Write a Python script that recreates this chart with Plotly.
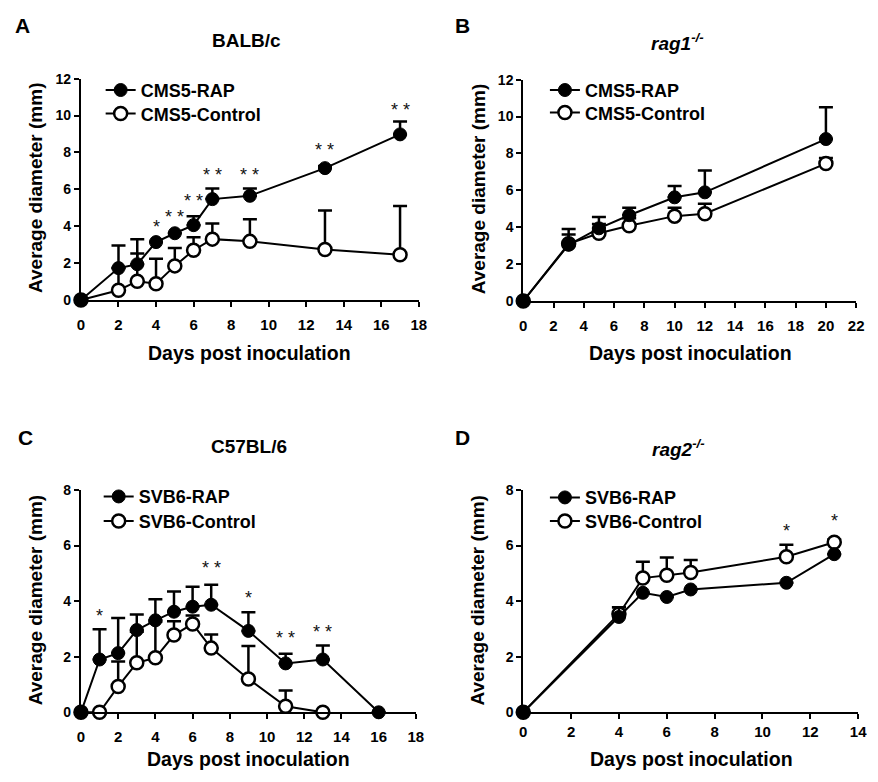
import plotly.graph_objects as go

# ---------------- data ----------------
# Panel A: BALB/c, CMS5
a_days = [0, 2, 3, 4, 5, 6, 7, 9, 13, 17]
a_rap = [0, 1.73, 1.94, 3.14, 3.62, 4.06, 5.47, 5.65, 7.15, 8.98]
a_rap_err = [0, 1.22, 1.36, 0, 0, 0.48, 0.58, 0.40, 0.12, 0.70]
a_ctl = [0, 0.53, 1.02, 0.88, 1.85, 2.70, 3.30, 3.18, 2.74, 2.45]
a_ctl_err = [0, 1.2, 1.50, 1.36, 0.97, 0.70, 0.85, 1.20, 2.11, 2.65]
a_star_x = [4, 5, 6, 7, 9, 13, 17]
a_star_y = [3.97, 4.50, 5.38, 6.79, 6.79, 8.12, 10.3]
a_star_t = ["*", "* *", "* *", "* *", "* *", "* *", "* *"]

# Panel B: rag1-/-, CMS5
b_days = [0, 3, 5, 7, 10, 12, 20]
b_rap = [0, 3.05, 3.94, 4.65, 5.62, 5.89, 8.78]
b_rap_err = [0, 0.85, 0.62, 0.40, 0.62, 1.18, 1.72]
b_ctl = [0, 3.10, 3.67, 4.08, 4.60, 4.73, 7.45]
b_ctl_err = [0, 0.50, 0.50, 0.40, 0.45, 0.54, 0.30]

# Panel C: C57BL/6, SVB6
c_days_rap = [0, 1, 2, 3, 4, 5, 6, 7, 9, 11, 13, 16]
c_rap = [0, 1.90, 2.13, 2.96, 3.31, 3.62, 3.80, 3.87, 2.93, 1.76, 1.90, 0]
c_rap_err = [0, 1.09, 1.26, 0.56, 0.76, 0.73, 0.72, 0.72, 0.67, 0.35, 0.50, 0]
c_days_ctl = [0, 1, 2, 3, 4, 5, 6, 7, 9, 11, 13]
c_ctl = [0, 0, 0.93, 1.78, 1.96, 2.78, 3.18, 2.31, 1.20, 0.22, 0]
c_ctl_err = [0, 0, 0.90, 1.12, 1.30, 0.50, 0.30, 0.49, 1.19, 0.56, 0]
c_star_x = [1, 7, 9, 11, 13]
c_star_y = [3.48, 5.18, 4.13, 2.66, 2.90]
c_star_t = ["*", "* *", "*", "* *", "* *"]

# Panel D: rag2-/-, SVB6
d_days = [0, 4, 5, 6, 7, 11, 13]
d_rap = [0, 3.43, 4.30, 4.15, 4.42, 4.66, 5.69]
d_rap_err = [0, 0.35, 0, 0, 0, 0, 0]
d_ctl = [0, 3.54, 4.83, 4.93, 5.03, 5.60, 6.12]
d_ctl_err = [0, 0.24, 0.59, 0.64, 0.45, 0.43, 0.10]
d_star_x = [11, 13]
d_star_y = [6.53, 6.89]
d_star_t = ["*", "*"]

# page body has an 8px margin: size the figure so the page coordinates line up
OFF = 8
W, H = 878 - OFF, 782 - OFF
def px(x):
    return (x - OFF) / W
def py(y):
    return 1 - (y - OFF) / H

FONT = "Liberation Sans, Arial, sans-serif"

fig = go.Figure()

def add_pair(xs_r, ys_r, er_r, xs_c, ys_c, er_c, name_r, name_c, xa, ya, leg_r, leg_c):
    fig.add_trace(go.Scatter(
        x=xs_c, y=ys_c, name=name_c, mode="lines+markers", xaxis=xa, yaxis=ya,
        legend=leg_c, showlegend=True, cliponaxis=False,
        line=dict(color="black", width=2),
        marker=dict(symbol="circle", size=13, color="white", line=dict(color="black", width=2.5)),
        error_y=dict(type="data", array=er_c, arrayminus=[0] * len(er_c), symmetric=False,
                     color="black", thickness=2.5, width=7),
    ))
    fig.add_trace(go.Scatter(
        x=xs_r, y=ys_r, name=name_r, mode="lines+markers", xaxis=xa, yaxis=ya,
        legend=leg_r, showlegend=True, cliponaxis=False,
        line=dict(color="black", width=2),
        marker=dict(symbol="circle", size=13, color="black", line=dict(color="black", width=1)),
        error_y=dict(type="data", array=er_r, arrayminus=[0] * len(er_r), symmetric=False,
                     color="black", thickness=2.5, width=7),
    ))

add_pair(a_days, a_rap, a_rap_err, a_days, a_ctl, a_ctl_err, "CMS5-RAP", "CMS5-Control", "x", "y", "legend", "legend2")
add_pair(b_days, b_rap, b_rap_err, b_days, b_ctl, b_ctl_err, "CMS5-RAP", "CMS5-Control", "x2", "y2", "legend3", "legend4")
add_pair(c_days_rap, c_rap, c_rap_err, c_days_ctl, c_ctl, c_ctl_err, "SVB6-RAP", "SVB6-Control", "x3", "y3", "legend5", "legend6")
add_pair(d_days, d_rap, d_rap_err, d_days, d_ctl, d_ctl_err, "SVB6-RAP", "SVB6-Control", "x4", "y4", "legend7", "legend8")

def xaxis(dom, rng, dtick, anchor, standoff):
    return dict(domain=dom, range=rng, dtick=dtick, tick0=0, anchor=anchor,
                showline=True, linecolor="black", linewidth=2, ticks="outside",
                ticklen=5, tickwidth=2, tickcolor="black", showgrid=False, zeroline=False,
                tickfont=dict(family=FONT, size=15, color="black", weight="bold"),
                ticklabelstandoff=standoff)

def yaxis(dom, rng, dtick, anchor):
    return dict(domain=dom, range=rng, dtick=dtick, tick0=0, anchor=anchor,
                showline=True, linecolor="black", linewidth=2, ticks="outside",
                ticklen=5, tickwidth=2, tickcolor="black", showgrid=False, zeroline=False,
                tickfont=dict(family=FONT, size=14, color="black", weight="bold"),
                ticklabelstandoff=0)

dA_x = [px(78), px(421)]
dB_x = [px(527), px(865)]
dC_x = [px(78), px(418)]
dD_x = [px(527), px(867)]
dTop_y = [py(298), py(72)]
dTopB_y = [py(299), py(73)]
dBot_y = [py(719), py(492)]

fig.update_layout(
    width=W, height=H, margin=dict(l=0, r=0, t=0, b=0),
    paper_bgcolor="white", plot_bgcolor="white", showlegend=True,
    xaxis=xaxis(dA_x, [0, 18], 2, "y", 5),
    yaxis=yaxis(dTop_y, [0, 12], 2, "x"),
    xaxis2=xaxis(dB_x, [0, 22], 2, "y2", 5),
    yaxis2=yaxis(dTopB_y, [0, 12], 2, "x2"),
    xaxis3=xaxis(dC_x, [0, 18], 2, "y3", 5),
    yaxis3=yaxis(dBot_y, [0, 8], 2, "x3"),
    xaxis4=xaxis(dD_x, [0, 14], 2, "y4", 0),
    yaxis4=yaxis(dBot_y, [0, 8], 2, "x4"),
)

def leg(x, y):
    return dict(x=px(x), y=py(y), xanchor="left", yanchor="top", bgcolor="rgba(0,0,0,0)",
                font=dict(family=FONT, size=18, color="black", weight="bold"),
                itemwidth=30, tracegroupgap=0, visible=True)

fig.update_layout(
    legend=leg(98, 65), legend2=leg(98, 89),
    legend3=leg(549, 65), legend4=leg(549, 88),
    legend5=leg(96, 480), legend6=leg(96, 505),
    legend7=leg(549, 481), legend8=leg(549, 505),
)

ann = []
def txt(x, y, t, size, weight="bold", angle=0, color="black"):
    ann.append(dict(x=px(x), y=py(y), xref="paper", yref="paper", text=t, showarrow=False,
                    xanchor="center", yanchor="middle", textangle=angle,
                    font=dict(family=FONT, size=size, color=color, weight=weight)))

# panel letters
txt(18.5, 18, "A", 21)
txt(465, 18, "B", 21)
txt(22, 438, "C", 21)
txt(465, 438, "D", 21)
# titles
txt(246, 33, "BALB/c", 19)
txt(684, 35, "<i>rag1</i><sup><i>-/-</i></sup>", 19)
txt(249, 448, "C57BL/6", 19)
txt(685, 449, "<i>rag2</i><sup><i>-/-</i></sup>", 19)
# axis titles
txt(249, 352, "Days post inoculation", 19.5)
txt(697, 352, "Days post inoculation", 19.5)
txt(248, 767, "Days post inoculation", 19.5)
txt(698, 767, "Days post inoculation", 19.5)
txt(32, 184, "Average diameter (mm)", 19, angle=-90)
txt(481, 185, "Average diameter (mm)", 19, angle=-90)
txt(32, 605, "Average diameter (mm)", 19, angle=-90)
txt(481, 605, "Average diameter (mm)", 19, angle=-90)

def stars(xs, ys, ts, xr, yr):
    for x, y, t in zip(xs, ys, ts):
        ann.append(dict(x=x, y=y, xref=xr, yref=yr, text=t, showarrow=False,
                        xanchor="center", yanchor="middle", yshift=0,
                        font=dict(family=FONT, size=18, color="#111")))

stars(a_star_x, a_star_y, a_star_t, "x", "y")
stars(c_star_x, c_star_y, c_star_t, "x3", "y3")
stars(d_star_x, d_star_y, d_star_t, "x4", "y4")

fig.update_layout(annotations=ann)
fig.write_html("out.html")
